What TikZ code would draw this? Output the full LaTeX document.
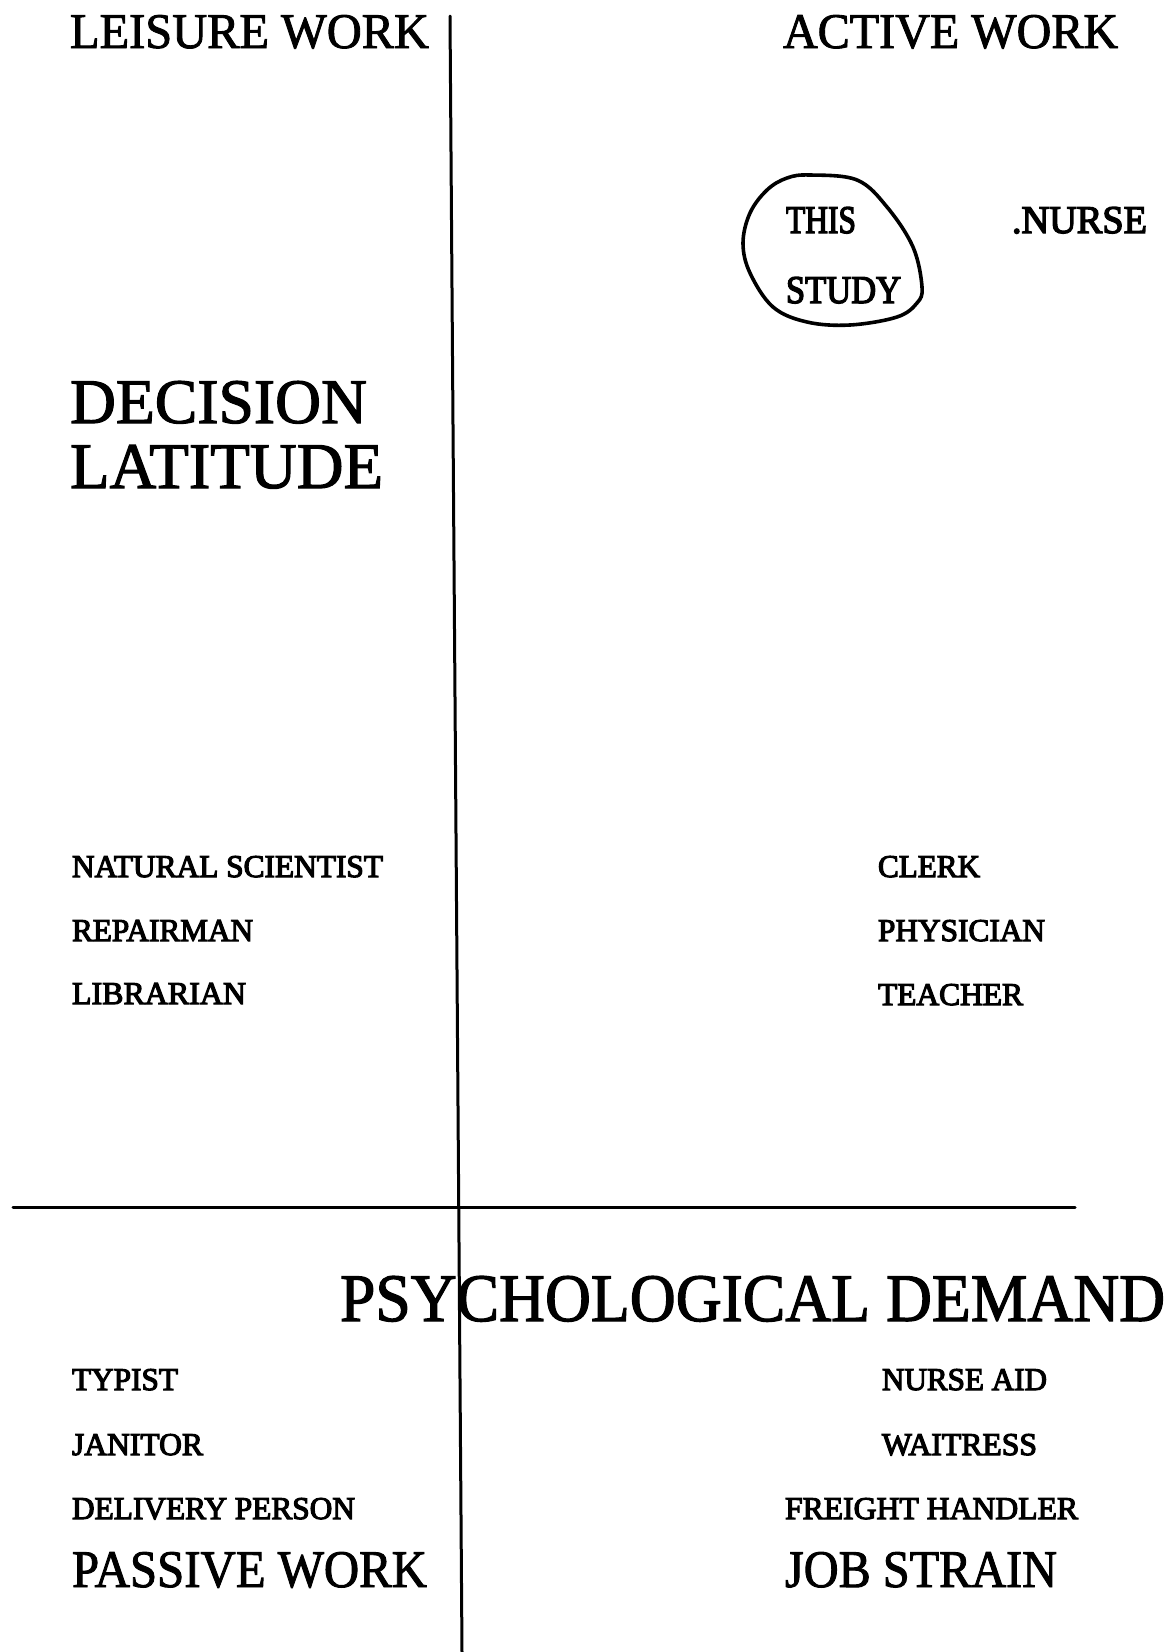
\documentclass[tikz,border=0pt]{standalone}
\usepackage{graphicx}
\usepackage{fontspec}
\setmainfont{Liberation Serif}[FakeBold=1.8]
\newfontfamily\smallink{Liberation Serif}[FakeBold=3.6]
% text scaled to a given width and cap height (in pt)
\newcommand\capbox[3]{\resizebox{#1pt}{#2pt}{#3}}
\newcommand\smallbox[3]{\resizebox{#1pt}{#2pt}{\smallink #3}}
\tikzset{
  lbl/.style={anchor=base west, inner sep=0pt, outer sep=0pt},
  axis/.style={line width=3pt, line cap=round},
  ring/.style={line width=3.6pt, line join=round}
}
\begin{document}
\begin{tikzpicture}[x=1pt,y=-1pt]
\useasboundingbox (0,0) rectangle (1174,1652);

% axes
\coordinate (vtop) at (450,16);
\coordinate (vbot) at (462,1652);
\coordinate (hl) at (13,1207);
\coordinate (hr) at (1075,1207);
\draw[axis] (vtop) -- (vbot);
\draw[axis] (hl) -- (hr);

% quadrant titles
\node[lbl] (leisure) at (70,48)  {\capbox{359}{33}{LEISURE WORK}};
\node[lbl] (active)  at (783,48) {\capbox{335}{33}{ACTIVE WORK}};
\node[lbl] (passive) at (72,1587) {\capbox{355}{35}{PASSIVE WORK}};
\node[lbl] (strain)  at (785,1587) {\capbox{272}{35}{JOB STRAIN}};

% axis names
\node[lbl] (dec) at (70,423) {\capbox{297}{42}{DECISION}};
\node[lbl] (lat) at (70,488) {\capbox{313}{43}{LATITUDE}};
\node[lbl] (psy) at (340,1321) {\capbox{825}{45}{PSYCHOLOGICAL DEMAND}};

% this study, ringed
\node[lbl] (this)  at (786,233) {\smallbox{70}{26}{THIS}};
\node[lbl] (study) at (786,303) {\smallbox{115}{26}{STUDY}};
\node[lbl] (nurse) at (1012,233) {\smallbox{135}{26}{.NURSE}};
\draw[ring] plot[smooth cycle, tension=0.6] coordinates {
  (810,175) (857,180) (887,207) (913,247) (922,287) (917,303)
  (897,317) (850,325) (807,322) (773,307) (750,273) (743,243)
  (750,213) (767,190) (787,178)};

% occupations, upper left
\node[lbl] (natsci) at (72,877)  {\smallbox{311}{21}{NATURAL SCIENTIST}};
\node[lbl] (repair) at (72,941)  {\smallbox{181}{21}{REPAIRMAN}};
\node[lbl] (libr)   at (72,1004) {\smallbox{174}{21}{LIBRARIAN}};

% occupations, upper right
\node[lbl] (clerk) at (878,877)  {\smallbox{102}{21}{CLERK}};
\node[lbl] (phys)  at (878,941)  {\smallbox{167}{21}{PHYSICIAN}};
\node[lbl] (teach) at (878,1005) {\smallbox{145}{21}{TEACHER}};

% occupations, lower left
\node[lbl] (typist)  at (72,1390) {\smallbox{106}{21}{TYPIST}};
\node[lbl] (janitor) at (72,1455) {\smallbox{131}{21}{JANITOR}};
\node[lbl] (deliv)   at (72,1519) {\smallbox{283}{21}{DELIVERY PERSON}};

% occupations, lower right
\node[lbl] (naid)    at (882,1390) {\smallbox{165}{21}{NURSE AID}};
\node[lbl] (waitr)   at (882,1455) {\smallbox{155}{21}{WAITRESS}};
\node[lbl] (freight) at (785,1519) {\smallbox{293}{21}{FREIGHT HANDLER}};
\end{tikzpicture}
\end{document}
